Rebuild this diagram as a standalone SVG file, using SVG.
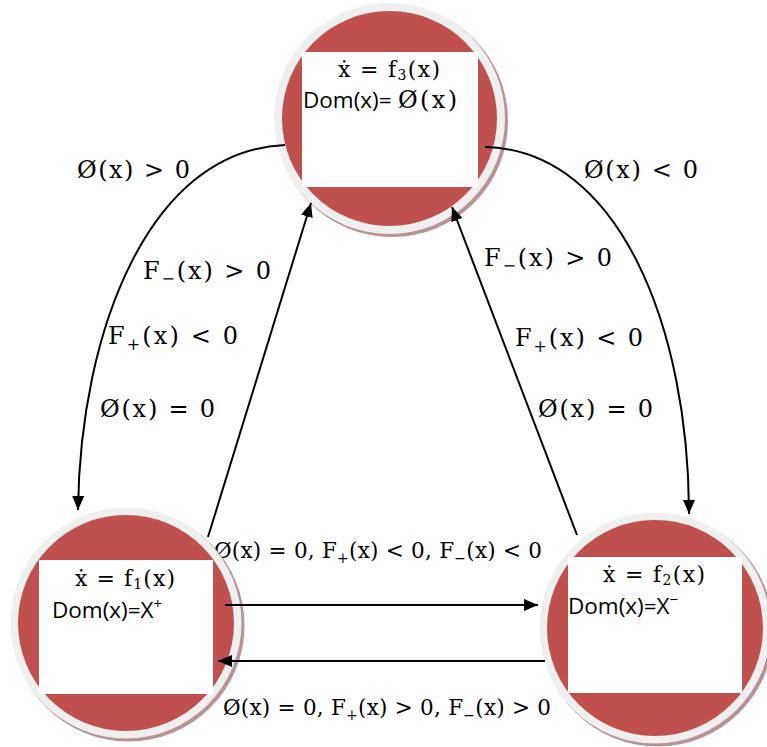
<svg xmlns="http://www.w3.org/2000/svg" width="767" height="747" viewBox="0 0 767 747">
<style>
.shadow{fill:#b99393}
.ring{fill:#efefef}
.red{fill:#c0504d}
.box{fill:#ffffff}
.m{font-family:"DejaVu Serif","Liberation Serif",serif;fill:#000}
.s{font-family:"Open Sans","Liberation Sans",sans-serif;fill:#000;font-size:22.5px}
.lbl{font-family:"DejaVu Serif","Liberation Serif",serif;font-size:24px;fill:#000}
.hl{font-family:"DejaVu Serif","Liberation Serif",serif;font-size:21.5px;fill:#000}
.edge{fill:none;stroke:#000;stroke-width:2;marker-end:url(#ah)}
</style>
<defs>
<marker id="ah" markerUnits="userSpaceOnUse" markerWidth="14" markerHeight="12" viewBox="0 0 14 12" refX="14" refY="6" orient="auto">
<path d="M0,0 L14,6 L0,12 z" fill="#000"/>
</marker>
</defs>
<rect width="767" height="747" fill="#fff"/>
<g id="edge-labels">
<text class="lbl" x="77" y="178" textLength="113" lengthAdjust="spacing">Ø(x) &gt; 0</text>
<text class="lbl" x="584" y="178" textLength="114" lengthAdjust="spacing">Ø(x) &lt; 0</text>
<text class="lbl" x="143" y="279" textLength="128" lengthAdjust="spacing">F<tspan font-size="16" dy="5">−</tspan><tspan dy="-5">(x) &gt; 0</tspan></text>
<text class="lbl" x="108" y="344" textLength="130" lengthAdjust="spacing">F<tspan font-size="16" dy="6">+</tspan><tspan dy="-6">(x) &lt; 0</tspan></text>
<text class="lbl" x="100" y="417" textLength="115" lengthAdjust="spacing">Ø(x) = 0</text>
<text class="lbl" x="484" y="266" textLength="128" lengthAdjust="spacing">F<tspan font-size="16" dy="5">−</tspan><tspan dy="-5">(x) &gt; 0</tspan></text>
<text class="lbl" x="515" y="346" textLength="128" lengthAdjust="spacing">F<tspan font-size="16" dy="6">+</tspan><tspan dy="-6">(x) &lt; 0</tspan></text>
<text class="lbl" x="538" y="417" textLength="115" lengthAdjust="spacing">Ø(x) = 0</text>
<text class="hl" x="214" y="558" textLength="328" lengthAdjust="spacing">Ø(x) = 0, F<tspan font-size="14" dy="5">+</tspan><tspan dy="-5">(x) &lt; 0, F</tspan><tspan font-size="14" dy="5">−</tspan><tspan dy="-5">(x) &lt; 0</tspan></text>
<text class="hl" x="223" y="715" textLength="328" lengthAdjust="spacing">Ø(x) = 0, F<tspan font-size="14" dy="5">+</tspan><tspan dy="-5">(x) &gt; 0, F</tspan><tspan font-size="14" dy="5">−</tspan><tspan dy="-5">(x) &gt; 0</tspan></text>
</g>
<g id="node-f3">
<circle class="shadow" cx="392" cy="121" r="116"/>
<circle class="ring" cx="389.5" cy="118.5" r="115.5"/>
<circle class="red" cx="389.5" cy="118.5" r="107.5"/>
<rect class="box" x="302" y="52" width="176" height="135"/>
<text class="m" x="338" y="77" font-size="22" textLength="102" lengthAdjust="spacing">ẋ = f<tspan font-size="14" dy="3">3</tspan><tspan dy="-3">(x)</tspan></text>
<text class="s" x="303" y="108">Dom(x)=</text>
<text class="m" x="398" y="108" font-size="24" textLength="59" lengthAdjust="spacing">Ø(x)</text>
</g>
<g id="node-f1">
<circle class="shadow" cx="128.5" cy="625.5" r="116"/>
<circle class="ring" cx="126" cy="623" r="115.5"/>
<circle class="red" cx="126" cy="623" r="108"/>
<rect class="box" x="39" y="560" width="174" height="134"/>
<text class="m" x="75" y="586" font-size="22" textLength="100" lengthAdjust="spacing">ẋ = f<tspan font-size="14" dy="3">1</tspan><tspan dy="-3">(x)</tspan></text>
<text class="s" x="52" y="618">Dom(x)=X<tspan font-size="15" dy="-9">+</tspan></text>
</g>
<g id="node-f2">
<circle class="shadow" cx="657.5" cy="630.5" r="116"/>
<circle class="ring" cx="655" cy="628" r="115.5"/>
<circle class="red" cx="655" cy="628" r="108"/>
<rect class="box" x="568" y="557" width="174" height="136"/>
<text class="m" x="603" y="582" font-size="22" textLength="102" lengthAdjust="spacing">ẋ = f<tspan font-size="14" dy="3">2</tspan><tspan dy="-3">(x)</tspan></text>
<text class="s" x="568" y="614">Dom(x)=X<tspan font-size="15" dy="-9">−</tspan></text>
</g>
<g id="connectors">
<path class="edge" d="M285,145 C150,150 80,330 78,510"/>
<path class="edge" d="M485,147 C620,150 689,330 689,514"/>
<path class="edge" d="M208,537 L311,203"/>
<path class="edge" d="M577,535 L452,207"/>
<path class="edge" d="M225,605 L538,605"/>
<path class="edge" d="M545,661 L218,661"/>
</g>
</svg>
